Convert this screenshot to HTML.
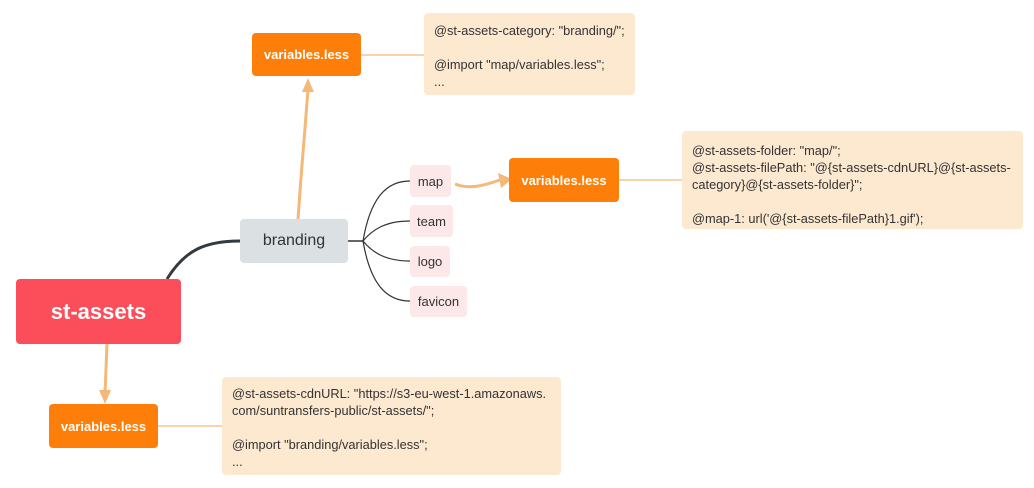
<!DOCTYPE html>
<html><head><style>
body{margin:0;width:1034px;height:488px;background:#fff;position:relative;overflow:hidden;font-family:"Liberation Sans",sans-serif;}
.b{position:absolute;display:flex;align-items:center;justify-content:center;border-radius:4px;white-space:nowrap;}
.o{background:#fd7e08;color:#fff;font-weight:bold;font-size:13px;}
.p{background:#fce8e9;color:#333;font-size:13px;}
.n{position:absolute;background:#fde8d0;border-radius:4px;color:#333;font-size:12.8px;line-height:17px;padding:8px 10px;box-sizing:border-box;white-space:nowrap;}
</style></head><body>
<svg width="1034" height="488" style="position:absolute;left:0;top:0">
<path d="M167 279 C185 250,205 241,240 241" stroke="#333a42" stroke-width="3" fill="none"/>
<path d="M348 241 H363" stroke="#333" stroke-width="1.5" fill="none"/>
<g stroke="#333" stroke-width="1.2" fill="none">
<path d="M363 241 C370 200,385 181,410 181"/>
<path d="M363 241 C372 230,385 221,410 221"/>
<path d="M363 241 C372 252,385 261,410 261"/>
<path d="M363 241 C370 282,385 301,410 301"/>
</g>
<g stroke="#f5b878" stroke-width="3" fill="none">
<path d="M298 219 C302 160,306 120,308 88"/>
<path d="M455 184 C470 190,485 185,500 180"/>
<path d="M107 344 L105 393"/>
</g>
<g fill="#f5b878">
<polygon points="308,78 302,92 314,92"/>
<polygon points="512,179 498,173 501,188"/>
<polygon points="105,404 99,390 111,390"/>
</g>
<g stroke="#f5b878" stroke-width="1.3">
<line x1="361" y1="55" x2="424" y2="55"/>
<line x1="619" y1="180" x2="682" y2="180"/>
<line x1="158" y1="426" x2="222" y2="426"/>
</g>
</svg>
<div class="b" style="left:16px;top:279px;width:165px;height:65px;background:#fb4e5a;color:#fff;font-weight:bold;font-size:22px;">st-assets</div>
<div class="b" style="left:240px;top:219px;width:108px;height:44px;background:#dbe1e2;color:#333;font-size:16px;">branding</div>
<div class="b o" style="left:252px;top:33px;width:109px;height:43px;">variables.less</div>
<div class="b o" style="left:509px;top:158px;width:110px;height:44px;">variables.less</div>
<div class="b o" style="left:49px;top:404px;width:109px;height:44px;">variables.less</div>
<div class="b p" style="left:410px;top:165px;width:41px;height:32px;">map</div>
<div class="b p" style="left:410px;top:205px;width:43px;height:32px;">team</div>
<div class="b p" style="left:410px;top:246px;width:40px;height:31px;">logo</div>
<div class="b p" style="left:410px;top:286px;width:57px;height:31px;">favicon</div>
<div class="n" style="left:424px;top:13px;width:211px;height:82px;padding-top:9px;">@st-assets-category: "branding/";<br><br>@import "map/variables.less";<br>...</div>
<div class="n" style="left:682px;top:131px;width:341px;height:98px;padding-top:11px;">@st-assets-folder: "map/";<br>@st-assets-filePath: "@{st-assets-cdnURL}@{st-assets-<br>category}@{st-assets-folder}";<br><br>@map-1: url('@{st-assets-filePath}1.gif');</div>
<div class="n" style="left:222px;top:377px;width:339px;height:98px;padding-top:8px;">@st-assets-cdnURL: "https://s3-eu-west-1.amazonaws.<br>com/suntransfers-public/st-assets/";<br><br>@import "branding/variables.less";<br>...</div>
</body></html>
